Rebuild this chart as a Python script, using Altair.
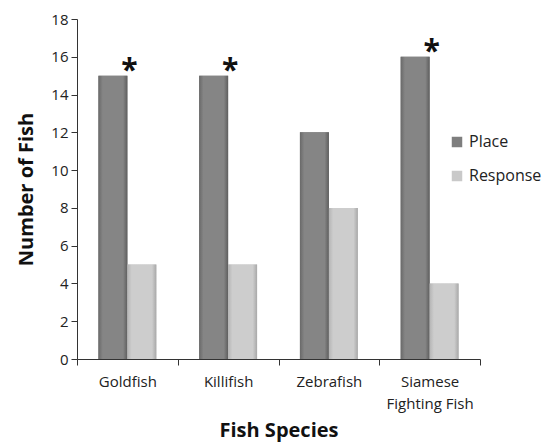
import altair as alt
import pandas as pd

species = ["Goldfish", "Killifish", "Zebrafish", "Siamese Fighting Fish"]
place = [15, 15, 12, 16]
response = [5, 5, 8, 4]
significant = [True, True, False, True]
series = ["Place", "Response"]
y_ticks = [0, 2, 4, 6, 8, 10, 12, 14, 16, 18]

rows = []
for s, p, r in zip(species, place, response):
    rows.append({"species": s, "type": "Place", "count": p})
    rows.append({"species": s, "type": "Response", "count": r})
df = pd.DataFrame(rows)
stars = pd.DataFrame({"species": species, "count": place, "sig": significant})
stars = stars[stars["sig"]]

FONT = "Open Sans"
W, H = 403, 340

x_enc = alt.X("species:N", sort=species,
              scale=alt.Scale(paddingInner=0, paddingOuter=0),
              axis=alt.Axis(title="Fish Species", tickBand="extent",
                            labelAngle=0, labelFontSize=15, labelFont=FONT,
                            labelColor="#222", labelPadding=9, labelLineHeight=22,
                            labelExpr="datum.label == 'Siamese Fighting Fish' ? ['Siamese', 'Fighting Fish'] : datum.label",
                            titleFontSize=20, titleFont=FONT, titleFontWeight="bold",
                            titlePadding=9, titleColor="#111",
                            tickSize=6, tickColor="#333", domainColor="#333"))
y_enc = alt.Y("count:Q", scale=alt.Scale(domain=[0, 18], nice=False),
              axis=alt.Axis(title="Number of Fish", values=y_ticks, grid=False,
                            labelFontSize=15, labelFont=FONT, labelColor="#222",
                            labelPadding=3, tickSize=6, tickColor="#333",
                            domainColor="#333", titleFontSize=20, titleFont=FONT,
                            titleFontWeight="bold", titlePadding=14, titleColor="#111"))
xo = alt.XOffset("type:N", sort=series, scale=alt.Scale(paddingInner=0, paddingOuter=0.74))

base = alt.Chart(df).mark_bar().encode(
    x=x_enc, y=y_enc, xOffset=xo,
    color=alt.Color("type:N", sort=series,
                    scale=alt.Scale(domain=series, range=["#7e7e7e", "#c9c9c9"]),
                    legend=alt.Legend(title=None, orient="none", legendX=372, legendY=115,
                                      symbolType="square", symbolSize=110,
                                      labelFontSize=16, labelFont=FONT, labelColor="#222",
                                      rowPadding=18, padding=0, symbolStrokeWidth=0)))

grad_place = {"gradient": "linear", "x1": 0, "x2": 1, "y1": 0, "y2": 0,
              "stops": [{"offset": 0, "color": "#696969"},
                        {"offset": 0.15, "color": "#858585"},
                        {"offset": 0.85, "color": "#858585"},
                        {"offset": 1, "color": "#5e5e5e"}]}
grad_resp = {"gradient": "linear", "x1": 0, "x2": 1, "y1": 0, "y2": 0,
             "stops": [{"offset": 0, "color": "#b5b5b5"},
                       {"offset": 0.15, "color": "#cdcdcd"},
                       {"offset": 0.85, "color": "#cdcdcd"},
                       {"offset": 1, "color": "#a8a8a8"}]}

place_layer = alt.Chart(df).transform_filter("datum.type == 'Place'").mark_bar(
    fill=grad_place).encode(x=x_enc, y=y_enc, xOffset=xo)
resp_layer = alt.Chart(df).transform_filter("datum.type == 'Response'").mark_bar(
    fill=grad_resp).encode(x=x_enc, y=y_enc, xOffset=xo)

star_layer = alt.Chart(stars).mark_text(
    text="*", fontSize=30, fontWeight="bold", font=FONT, color="#111",
    baseline="alphabetic", dy=4, dx=2).encode(x=x_enc, y=y_enc)

chart = alt.layer(base, place_layer, resp_layer, star_layer).properties(
    width=W, height=H, background="white",
    padding={"left": 16, "top": 12, "right": 0, "bottom": 2}
).configure_view(stroke=None)

chart.save("out.html", embed_options={"renderer": "svg", "actions": False})
